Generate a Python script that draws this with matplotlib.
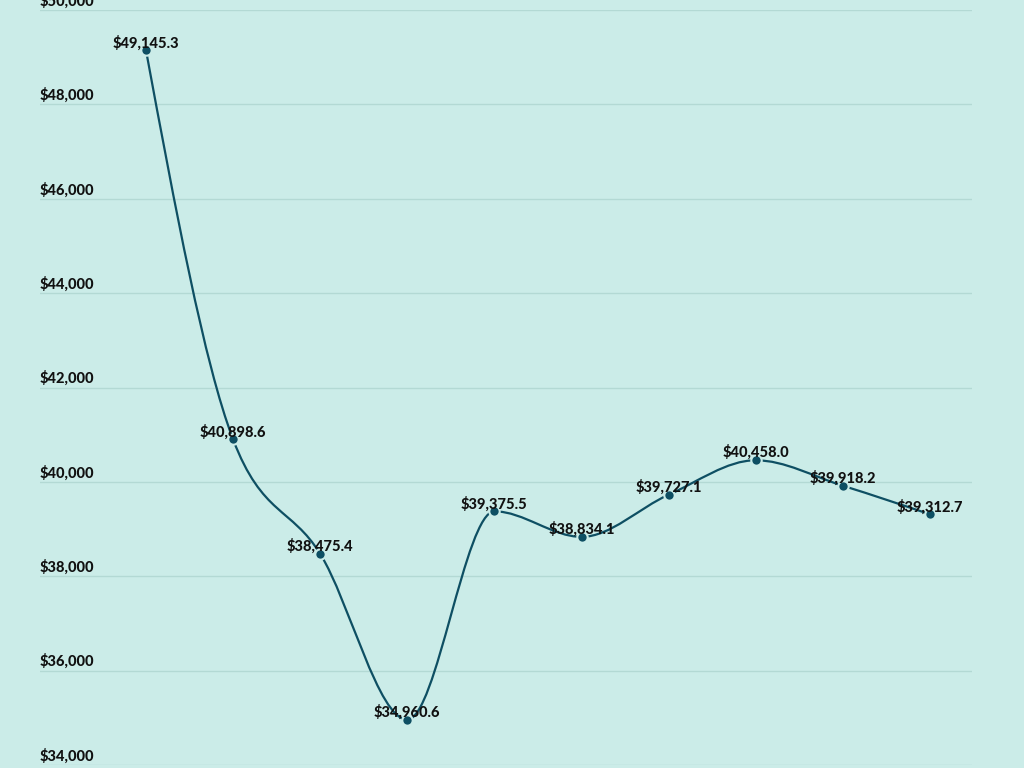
import numpy as np
import matplotlib
matplotlib.use("Agg")
import matplotlib.pyplot as plt
from matplotlib.path import Path
from matplotlib.patches import PathPatch

values = [49145.3, 40898.6, 38475.4, 34960.6, 39375.5, 38834.1, 39727.1, 40458.0, 39918.2, 39312.7]
labels = ["$49,145.3", "$40,898.6", "$38,475.4", "$34,960.6", "$39,375.5",
          "$38,834.1", "$39,727.1", "$40,458.0", "$39,918.2", "$39,312.7"]
yticks = [34000, 36000, 38000, 40000, 42000, 44000, 46000, 48000, 50000]
ytick_labels = ["$34,000", "$36,000", "$38,000", "$40,000", "$42,000",
                "$44,000", "$46,000", "$48,000", "$50,000"]

BG = "#cbece8"
LINE = "#0e4f63"
GRID = "#b3d9d4"

x = np.arange(len(values), dtype=float)
y = np.array(values, dtype=float)

# monotone cubic (d3 curveMonotoneX style)
n = len(x)
h = np.diff(x)
s = np.diff(y) / h
t = np.zeros(n)
for i in range(1, n - 1):
    s0, s1 = s[i - 1], s[i]
    p = (s0 * h[i] + s1 * h[i - 1]) / (h[i - 1] + h[i])
    t[i] = (np.sign(s0) + np.sign(s1)) * min(abs(s0), abs(s1), 0.5 * abs(p))
t[0] = (3 * s[0] - t[1]) / 2
t[-1] = (3 * s[-1] - t[-2]) / 2

verts = [(x[0], y[0])]
codes = [Path.MOVETO]
for i in range(n - 1):
    dx = (x[i + 1] - x[i]) / 3
    verts += [(x[i] + dx, y[i] + dx * t[i]), (x[i + 1] - dx, y[i + 1] - dx * t[i + 1]), (x[i + 1], y[i + 1])]
    codes += [Path.CURVE4] * 3

fig = plt.figure(figsize=(10.24, 7.68), dpi=100, facecolor=BG)
ax = fig.add_axes([40 / 1024, 1 - 765 / 768, (972 - 40) / 1024, (765 - 10) / 768])
ax.set_facecolor(BG)
ax.set_xlim((40 - 146) / 87.1, (972 - 146) / 87.1)
ax.set_ylim(34000, 50000)
for sp in ax.spines.values():
    sp.set_visible(False)
ax.set_xticks([])
ax.set_yticks([])
for v in yticks:
    ax.axhline(v, color=GRID, lw=1.0, zorder=0)

ax.add_patch(PathPatch(Path(verts, codes), facecolor="none", edgecolor=LINE, lw=1.6, zorder=2))
ax.plot(x, y, linestyle="none", marker="o", markersize=7.5, markerfacecolor=LINE,
        markeredgecolor=BG, markeredgewidth=1.5, zorder=3)

fam = ["Lato", "DejaVu Sans"]
for xi, yi, lab in zip(x, y, labels):
    ax.annotate(lab, (xi, yi), xytext=(0, 0), textcoords="offset points",
                ha="center", va="bottom", fontsize=10.5, fontweight="black",
                color="#111111", family=fam, zorder=4)

xl = ax.get_xlim()[0]
for v, lab in zip(yticks, ytick_labels):
    ax.annotate(lab, (xl, v), xytext=(0, 1), textcoords="offset points",
                ha="left", va="bottom", fontsize=10.5, fontweight="black",
                color="#111111", family=fam, zorder=4,
                annotation_clip=False)

fig.savefig("out.png", dpi=100, facecolor=BG)
